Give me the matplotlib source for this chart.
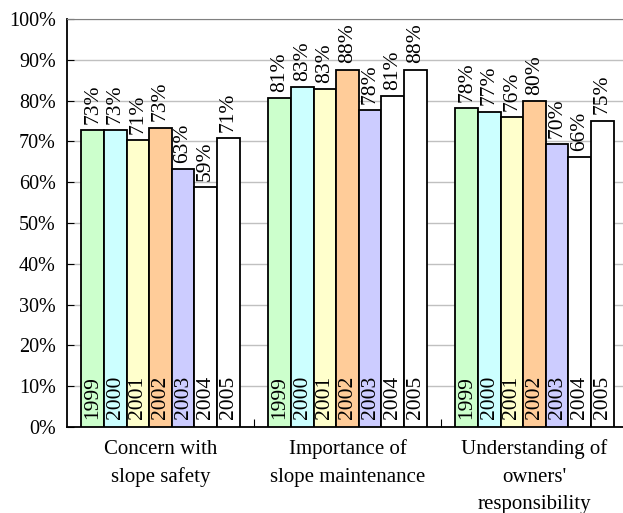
import numpy as np
import matplotlib
matplotlib.use("Agg")
import matplotlib.pyplot as plt

plt.rcParams['font.family'] = ['Liberation Serif', 'DejaVu Serif']

categories = ["Concern with\nslope safety", "Importance of\nslope maintenance",
              "Understanding of\nowners'\nresponsibility"]
years = ["1999", "2000", "2001", "2002", "2003", "2004", "2005"]
colors = ["#CCFFCC", "#CCFFFF", "#FFFFCC", "#FFCC99", "#CCCCFF", "#FFFFFF", "#FFFFFF"]

# rows = years, columns = categories (bar heights, %)
values = [
    [72.8, 80.6, 78.1],
    [72.8, 83.3, 77.3],
    [70.3, 82.8, 76.0],
    [73.4, 87.6, 79.8],
    [63.2, 77.7, 69.4],
    [58.8, 81.1, 66.1],
    [70.8, 87.6, 75.1],
]
labels = [
    ["73%", "81%", "78%"],
    ["73%", "83%", "77%"],
    ["71%", "83%", "76%"],
    ["73%", "88%", "80%"],
    ["63%", "78%", "70%"],
    ["59%", "81%", "66%"],
    ["71%", "88%", "75%"],
]

fig = plt.figure(figsize=(6.23, 5.13), dpi=100)
ax = fig.add_axes([67/623, 86/513, 561/623, 408/513])

n = len(years)
bw = 1.0 / (n + 1.28)
x = np.arange(len(categories))
start = -n * bw / 2

for i, yr in enumerate(years):
    pos = x + start + (i + 0.5) * bw
    ax.bar(pos, values[i], width=bw, color=colors[i], edgecolor="black",
           linewidth=1.3, zorder=3)
    for p, v, lab in zip(pos, values[i], labels[i]):
        ax.text(p, v + 1.5, lab, rotation=90, ha="center", va="bottom",
                fontsize=15.5, zorder=4)
        ax.text(p, 2.0, yr, rotation=90, ha="center", va="bottom",
                fontsize=15.5, zorder=4)

ax.set_xlim(-0.5, 2.5)
ax.set_ylim(0, 100)
ax.set_yticks(np.arange(0, 101, 10))
ax.set_yticklabels(["{}%".format(t) for t in range(0, 101, 10)], fontsize=14.5)
ax.yaxis.grid(True, color="#c0c0c0", linewidth=1, zorder=0)
ax.set_axisbelow(True)

ax.set_xticks([0.5, 1.5])
ax.set_xticklabels([])
ax.set_xticks(x, minor=True)
ax.set_xticklabels(categories, minor=True, fontsize=15, linespacing=1.6)
ax.tick_params(axis="x", which="minor", length=0, pad=9)
ax.tick_params(axis="x", which="major", direction="in", length=6)
ax.tick_params(axis="y", direction="in", length=5, pad=8)

ax.spines["right"].set_visible(False)
ax.spines["top"].set_color("#808080")
ax.spines["left"].set_linewidth(1.3)
ax.spines["bottom"].set_linewidth(1.3)

fig.savefig("out.png", dpi=100)
